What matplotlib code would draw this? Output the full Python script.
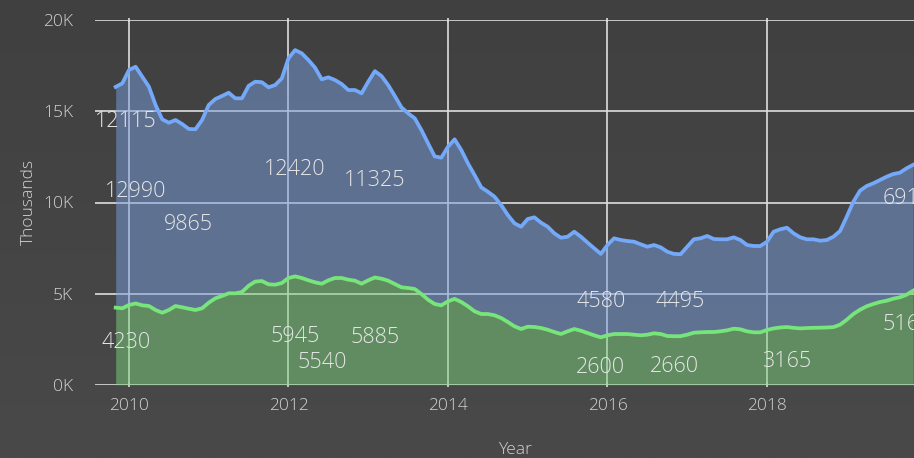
import numpy as np
import matplotlib.pyplot as plt
from matplotlib.colors import LinearSegmentedColormap

# monthly values, Nov 2009 .. Nov 2019
green = [4230, 4193, 4374, 4460, 4357, 4319, 4100, 3951, 4100, 4319,
         4248, 4171, 4100, 4193, 4500, 4742, 4868, 5016, 5016, 5087,
         5430, 5660, 5690, 5510, 5488, 5581, 5856, 5945, 5856, 5729,
         5620, 5540, 5729, 5856, 5856, 5763, 5708, 5543, 5729, 5885,
         5817, 5708, 5526, 5345, 5307, 5252, 4978, 4665, 4429, 4357,
         4577, 4710, 4539, 4303, 4028, 3880, 3880, 3809, 3660, 3441,
         3205, 3057, 3183, 3167, 3112, 3018, 2892, 2782, 2930, 3057,
         2963, 2837, 2711, 2600, 2711, 2782, 2782, 2782, 2744, 2711,
         2744, 2821, 2782, 2673, 2660, 2665, 2744, 2854, 2876, 2892,
         2892, 2930, 2985, 3073, 3040, 2930, 2876, 2876, 3002, 3090,
         3140, 3165, 3120, 3090, 3110, 3120, 3130, 3140, 3160, 3293,
         3567, 3880, 4116, 4303, 4429, 4539, 4610, 4720, 4797, 4939, 5160]
blue = [12115, 12347, 12897, 12990, 12546, 12035, 11250, 10614, 10279, 10208,
        10059, 9865, 9920, 10334, 10850, 10937, 10976, 11009, 10701, 10630,
        10970, 10970, 10910, 10811, 10959, 11234, 12057, 12420, 12331, 12091,
        11777, 11220, 11141, 10866, 10646, 10410, 10465, 10449, 10900, 11325,
        11124, 10739, 10318, 9878, 9587, 9368, 9000, 8585, 8101, 8103,
        8484, 8757, 8341, 7847, 7480, 6953, 6712, 6509, 6202, 5872,
        5653, 5614, 5911, 6020, 5779, 5653, 5417, 5285, 5192, 5340,
        5159, 4963, 4775, 4580, 4956, 5252, 5159, 5104, 5104, 4994,
        4829, 4846, 4758, 4626, 4520, 4495, 4829, 5126, 5158, 5269,
        5104, 5050, 4995, 5016, 4901, 4737, 4736, 4736, 4846, 5307,
        5388, 5451, 5189, 4999, 4870, 4860, 4773, 4801, 4962, 5142,
        5653, 6163, 6531, 6602, 6624, 6695, 6805, 6843, 6838, 6937, 6910]

green_labels = [0, 27, 31, 39, 73, 84, 101, 120]
blue_labels = [0, 3, 11, 27, 39, 73, 85, 120]
y_ticks = [0, 5000, 10000, 15000, 20000]
y_ticklabels = ['0K', '5K', '10K', '15K', '20K']
x_ticks = [2010, 2012, 2014, 2016, 2018]

green = np.array(green)
blue = np.array(blue)
total = green + blue
years = 2009 + 10 / 12 + np.arange(len(green)) / 12

plt.rcParams['font.family'] = ['Open Sans', 'DejaVu Sans']
plt.rcParams['font.weight'] = 300
txt = '#d2d2d2'
gridc = '#dedede'

fig = plt.figure(figsize=(9.14, 4.58), dpi=100)

bg = fig.add_axes([0, 0, 1, 1], zorder=-10)
cmap = LinearSegmentedColormap.from_list('bg', ['#404040', '#494949'])
bg.imshow(np.linspace(0, 1, 256)[:, None], aspect='auto', cmap=cmap,
          extent=[0, 1, 0, 1], origin='upper')
bg.axis('off')

ax = fig.add_axes([95 / 914, 73.3 / 458, 844 / 914, 364.4 / 458])
ax.patch.set_visible(False)

ax.fill_between(years, 0, green, color='#7cd27e', alpha=0.5, lw=0, zorder=2)
ax.fill_between(years, green, total, color='#7a9ede', alpha=0.5, lw=0, zorder=2)
ax.plot(years, green, color='#78e57b', lw=2.7, zorder=3)
ax.plot(years, total, color='#74a9fa', lw=2.7, zorder=3)

ax.set_xlim(2009.574, 2020.157)
ax.set_ylim(0, 20000)
ax.set_xticks(x_ticks)
ax.set_yticks(y_ticks)
ax.set_yticklabels(y_ticklabels)
ax.set_axisbelow(True)
ax.grid(True, color=gridc, lw=1.2)
for s in ax.spines.values():
    s.set_visible(False)
ax.tick_params(axis='x', direction='inout', length=2.9, width=1.2, color=gridc,
               top=True, labelsize=12.5, labelcolor=txt, pad=8)
ax.tick_params(axis='y', length=0, pad=15.6, labelsize=12.5, labelcolor=txt)

# label nudges in pixels (dx, dy), default sits in band centre
blue_nudge = {0: (10, 76), 120: (-6, 29)}
green_nudge = {0: (10, 4), 31: (0, -28), 120: (-6, 13)}

for i in blue_labels:
    dx, dy = blue_nudge.get(i, (0, -6))
    ax.annotate(str(blue[i]), (years[i], green[i] + blue[i] / 2),
                xytext=(dx, dy), textcoords='offset pixels',
                ha='center', va='center', fontsize=15.5, color='#e6e6e6',
                zorder=5)
for i in green_labels:
    dx, dy = green_nudge.get(i, (0, -6))
    ax.annotate(str(green[i]), (years[i], green[i] / 2),
                xytext=(dx, dy), textcoords='offset pixels',
                ha='center', va='center', fontsize=15.5, color='#e6e6e6',
                zorder=5)

fig.text(28.7 / 914, 1 - 202 / 458, 'Thousands', rotation=90, ha='center',
         va='center', fontsize=12.5, color=txt)
fig.text(515 / 914, 1 - 450.5 / 458, 'Year', ha='center', va='center',
         fontsize=12.5, color=txt)

fig.savefig('out.png', dpi=100)
